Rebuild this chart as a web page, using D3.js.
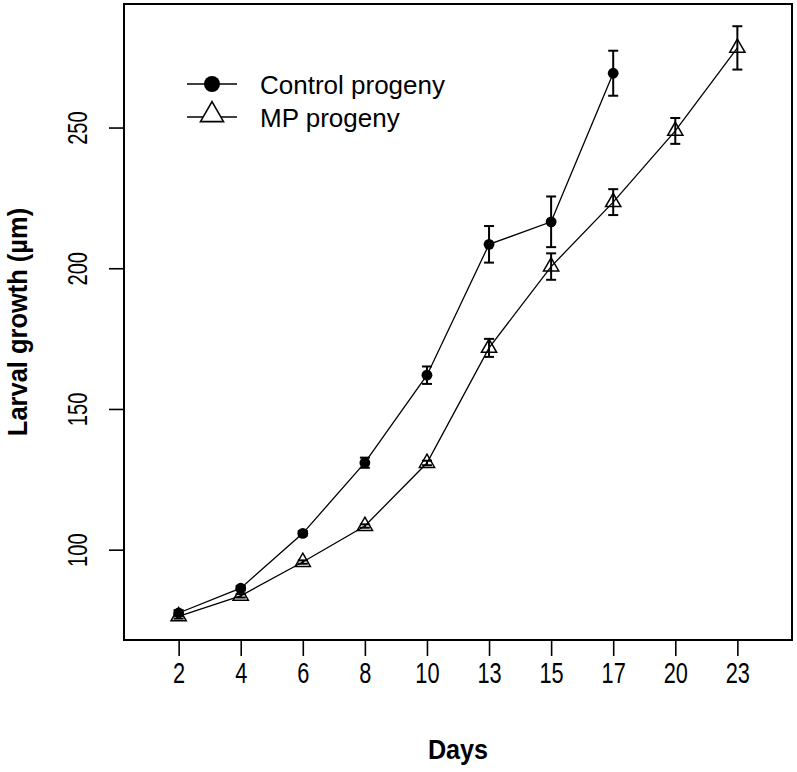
<!DOCTYPE html>
<html>
<head>
<meta charset="utf-8">
<script src="https://cdn.jsdelivr.net/npm/d3@7"></script>
<style>
  html, body { margin: 0; padding: 0; background: #fff; }
  svg { display: block; }
  text { font-family: "Liberation Sans", Arial, sans-serif; fill: #000; }
</style>
</head>
<body>
<svg id="chart" width="797" height="772"></svg>
<script>
// ---- data ----
const days = ["2", "4", "6", "8", "10", "13", "15", "17", "20", "23"];
const controlMean = [77.5, 86.3, 105.8, 130.9, 162.0, 208.5, 216.5, 269.3];
const controlErr  = [1.0, 0.8, 0.8, 1.8, 3.1, 6.5, 9.0, 8.0];
const mpMean = [76.3, 83.6, 95.6, 108.4, 130.8, 171.7, 200.6, 223.5, 248.8, 278.3];
const mpErr  = [0.8, 0.6, 0.6, 0.6, 0.8, 3.2, 4.7, 4.6, 4.6, 7.7];
const yTicks = [100, 150, 200, 250];
const seriesNames = ["Control progeny", "MP progeny"];
const xTitle = "Days";
const yTitle = "Larval growth (µm)";

// ---- layout ----
const box = { left: 124, right: 792, top: 4, bottom: 640 };
const svg = d3.select("#chart");

const x = d3.scalePoint().domain(days).range([box.left, box.right]).padding(0.88);
const y = d3.scaleLinear().domain([67.9, 293.9]).range([box.bottom, box.top]);

const control = controlMean.map((v, i) => ({ day: days[i], v, e: controlErr[i] }));
const mp = mpMean.map((v, i) => ({ day: days[i], v, e: mpErr[i] }));

// axes
const xAxis = svg.append("g")
  .attr("transform", `translate(0,${box.bottom})`)
  .call(d3.axisBottom(x).tickSize(16).tickPadding(0).tickSizeOuter(0));
xAxis.select(".domain").remove();
xAxis.selectAll(".tick line").attr("stroke", "#000").attr("stroke-width", 1.6);
xAxis.selectAll(".tick text")
  .attr("y", 0).attr("dy", 0)
  .attr("transform", "translate(0,43) scale(0.75,1)")
  .attr("font-size", 29)
  .attr("text-anchor", "middle");

const yAxis = svg.append("g")
  .attr("transform", `translate(${box.left},0)`)
  .call(d3.axisLeft(y).tickValues(yTicks).tickSize(15).tickPadding(0).tickSizeOuter(0));
yAxis.select(".domain").remove();
yAxis.selectAll(".tick line").attr("stroke", "#000").attr("stroke-width", 1.6);
yAxis.selectAll(".tick text")
  .attr("x", 0).attr("dy", 0)
  .attr("transform", "translate(-37,0) rotate(-90) scale(0.72,1)")
  .attr("font-size", 28)
  .attr("text-anchor", "middle");

// frame
svg.append("rect")
  .attr("x", box.left).attr("y", box.top)
  .attr("width", box.right - box.left).attr("height", box.bottom - box.top)
  .attr("fill", "none").attr("stroke", "#000").attr("stroke-width", 2);

// titles
svg.append("text")
  .attr("transform", "translate(458,759) scale(0.9,1)")
  .attr("text-anchor", "middle")
  .attr("font-size", 28).attr("font-weight", "bold")
  .text(xTitle);
svg.append("text")
  .attr("transform", "translate(27,322) rotate(-90) scale(0.91,1)")
  .attr("text-anchor", "middle")
  .attr("font-size", 28).attr("font-weight", "bold")
  .text(yTitle);

// lines
const line = d3.line().x(d => x(d.day)).y(d => y(d.v));
[control, mp].forEach(s => {
  svg.append("path").datum(s).attr("d", line)
    .attr("fill", "none").attr("stroke", "#000").attr("stroke-width", 1.3);
});

// error bars
function errorBars(data) {
  const g = svg.append("g").attr("stroke", "#000").attr("stroke-width", 2);
  data.forEach(d => {
    const cx = x(d.day), y0 = y(d.v - d.e), y1 = y(d.v + d.e);
    g.append("line").attr("x1", cx).attr("x2", cx).attr("y1", y0).attr("y2", y1);
    g.append("line").attr("x1", cx - 5).attr("x2", cx + 5).attr("y1", y0).attr("y2", y0);
    g.append("line").attr("x1", cx - 5).attr("x2", cx + 5).attr("y1", y1).attr("y2", y1);
  });
}
errorBars(control);
errorBars(mp);

// markers
function trianglePath(cx, cy, r) {
  const xc = r * Math.sqrt(3) / 2, yc = r / 2;
  return `M${cx},${cy - r}L${cx + xc},${cy + yc}L${cx - xc},${cy + yc}Z`;
}
svg.append("g").selectAll("circle").data(control).join("circle")
  .attr("cx", d => x(d.day)).attr("cy", d => y(d.v)).attr("r", 5.4)
  .attr("fill", "#000");
svg.append("g").selectAll("path").data(mp).join("path")
  .attr("d", d => trianglePath(x(d.day), y(d.v), 8.8))
  .attr("fill", "none").attr("stroke", "#000").attr("stroke-width", 1.5);

// legend
const legRows = [84, 117];
const lg = svg.append("g");
legRows.forEach((ly, i) => {
  lg.append("line").attr("x1", 187).attr("x2", 237).attr("y1", ly).attr("y2", ly)
    .attr("stroke", "#000").attr("stroke-width", 1.5);
  lg.append("text").attr("x", 260).attr("y", ly + 10).attr("font-size", 26).text(seriesNames[i]);
});
lg.append("circle").attr("cx", 212).attr("cy", legRows[0]).attr("r", 8).attr("fill", "#000");
lg.append("path").attr("d", trianglePath(212, legRows[1] - 2, 13.3))
  .attr("fill", "#fff").attr("stroke", "#000").attr("stroke-width", 1.6);
</script>
</body>
</html>
